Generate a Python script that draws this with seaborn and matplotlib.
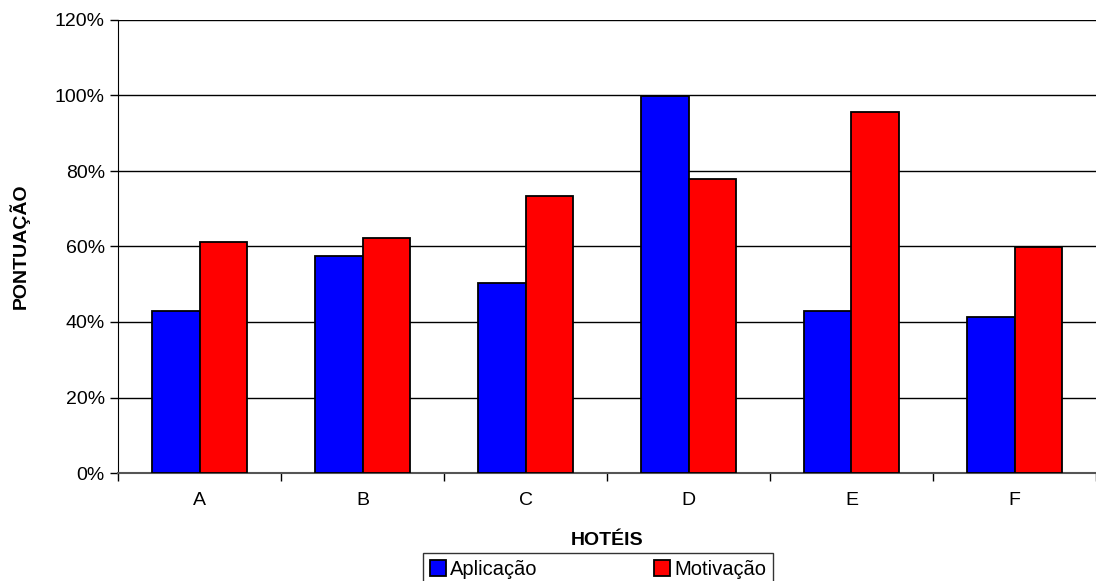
import matplotlib
matplotlib.use("Agg")
import matplotlib.pyplot as plt
import matplotlib.ticker as mticker
import pandas as pd
import seaborn as sns

hoteis = ["A", "B", "C", "D", "E", "F"]
aplicacao = [0.43, 0.575, 0.503, 1.00, 0.43, 0.413]
motivacao = [0.612, 0.622, 0.733, 0.778, 0.956, 0.60]
series = ["Aplicação", "Motivação"]
cores = {"Aplicação": "#0000FF", "Motivação": "#FF0000"}

df = pd.DataFrame({
    "hotel": hoteis * 2,
    "serie": [series[0]] * len(hoteis) + [series[1]] * len(hoteis),
    "valor": aplicacao + motivacao,
})

sns.set_style("white")
plt.rcParams["font.family"] = ["Liberation Sans", "DejaVu Sans"]
plt.rcParams["font.size"] = 14
plt.rcParams["text.color"] = "black"
plt.rcParams["axes.labelcolor"] = "black"
plt.rcParams["xtick.color"] = "black"
plt.rcParams["ytick.color"] = "black"

fig = plt.figure(figsize=(10.96, 5.81), dpi=100)
ax = fig.add_axes([118 / 1096, (581 - 473) / 581, (1096 - 118) / 1096, (473 - 20) / 581])

sns.barplot(data=df, x="hotel", y="valor", hue="serie", palette=cores, saturation=1,
            width=0.58, edgecolor="black", linewidth=1.3, ax=ax, zorder=3)

ax.set_ylim(0, 1.2)
ax.set_xlim(-0.5, 5.5)
ax.yaxis.set_major_locator(mticker.MultipleLocator(0.2))
ax.yaxis.set_major_formatter(mticker.PercentFormatter(1.0, decimals=0))
ax.grid(axis="y", color="black", linewidth=1, zorder=0)
ax.set_axisbelow(True)

# category boundary ticks on x
ax.xaxis.set_minor_locator(mticker.FixedLocator([i - 0.5 for i in range(len(hoteis) + 1)]))
ax.tick_params(axis="x", which="major", length=0, pad=14, labelsize=14)
ax.tick_params(axis="x", which="minor", length=6, width=1, color="black", direction="out", bottom=True)
ax.tick_params(axis="y", length=6, width=1, color="black", direction="out", left=True, labelsize=14)

for s in ["top", "right"]:
    ax.spines[s].set_visible(False)
ax.spines["left"].set_color("black")
ax.spines["bottom"].set_color("#555555")
ax.spines["bottom"].set_linewidth(1.5)

ax.set_xlabel("HOTÉIS", fontweight="bold", fontsize=14, labelpad=16)
ax.set_ylabel("PONTUAÇÃO", fontweight="bold", fontsize=14, labelpad=18)

ax.get_legend().remove()
handles, labels = ax.get_legend_handles_labels()
leg = fig.legend(handles, labels, loc="upper center", bbox_to_anchor=(598 / 1096, 1 - 553 / 581),
                 ncol=2, frameon=True, fancybox=False, edgecolor="black", fontsize=14.5,
                 handlelength=0.8, handleheight=0.8, handletextpad=0.2, columnspacing=5.8,
                 borderpad=0.35, borderaxespad=0)
leg.get_frame().set_linewidth(1)

fig.savefig("out.png", dpi=100)
